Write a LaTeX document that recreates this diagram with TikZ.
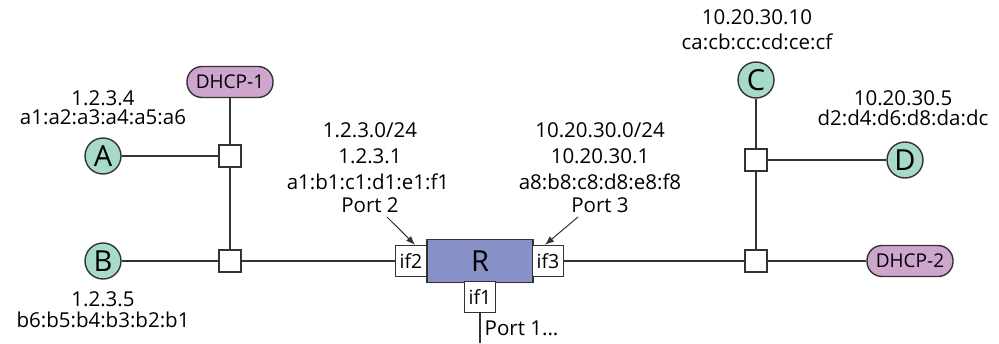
\documentclass[tikz,border=0pt]{standalone}
\usepackage{fontspec}
\setmainfont{Open Sans}
\usetikzlibrary{arrows.meta}
\definecolor{hostc}{RGB}{168,218,200}
\definecolor{dhcpc}{RGB}{205,165,205}
\definecolor{routc}{RGB}{136,146,200}
\colorlet{wire}{black!80}
\begin{document}
\begin{tikzpicture}[x=1pt, y=-1pt, line width=1.4pt,
    host/.style = {draw=wire, circle, fill=hostc, minimum size=36pt, inner sep=0pt, font=\fontsize{29}{31}\selectfont},
    sw/.style = {draw=wire, fill=white, minimum size=22pt, inner sep=0pt},
    dhcp/.style = {draw=wire, rounded corners=15pt, fill=dhcpc, minimum width=86pt, minimum height=31pt, inner sep=0pt, font=\fontsize{19}{21}\selectfont},
    rout/.style = {draw=wire, fill=routc, minimum width=106pt, minimum height=43pt, inner sep=0pt, font=\fontsize{29}{31}\selectfont},
    iface/.style = {draw=wire, fill=white, minimum width=31pt, minimum height=31pt, inner sep=0pt, font=\fontsize{19.5}{21}\selectfont},
    txt/.style = {inner sep=0pt, font=\fontsize{20.5}{22}\selectfont}]
    \useasboundingbox (0,0) rectangle (999,343);

    % hosts, switches and the router
    \node[host] (A) at (103,156) {A};
    \node[host] (B) at (103,261) {B};
    \node[host] (C) at (756,80) {C};
    \node[host] (D) at (905,160) {D};
    \node[dhcp] (dhcp1) at (230,82) {DHCP-1};
    \node[dhcp] (dhcp2) at (910,261) {DHCP-2};
    \node[sw] (sa) at (230,156) {};
    \node[sw] (sb) at (230,261) {};
    \node[sw] (sc) at (756,160) {};
    \node[sw] (sd) at (756,261) {};
    \node[rout] (R) at (480,261) {R};
    \node[iface] (if2) at (411,261) {if2};
    \node[iface] (if3) at (548,261) {if3};
    \node[iface] (if1) at (480,297) {if1};
    \coordinate (p1end) at (480,343);

    % links
    \draw[wire] (A) -- (sa);
    \draw[wire] (dhcp1) -- (sa);
    \draw[wire] (sa) -- (sb);
    \draw[wire] (B) -- (sb);
    \draw[wire] (sb) -- (if2);
    \draw[wire] (if3) -- (sd);
    \draw[wire] (sd) -- (dhcp2);
    \draw[wire] (sd) -- (sc);
    \draw[wire] (sc) -- (C);
    \draw[wire] (sc) -- (D);
    \draw[wire] (if1) -- (p1end);

    % addresses
    \node[txt] (ipa) at (103,98) {1.2.3.4};
    \node[txt] (maca) at (103,117.5) {a1:a2:a3:a4:a5:a6};
    \node[txt] (ipb) at (103,299) {1.2.3.5};
    \node[txt] (macb) at (103,320) {b6:b5:b4:b3:b2:b1};
    \node[txt] (ipc) at (757,17) {10.20.30.10};
    \node[txt] (macc) at (757,42) {ca:cb:cc:cd:ce:cf};
    \node[txt] (ipd) at (903,98) {10.20.30.5};
    \node[txt] (macd) at (903,118) {d2:d4:d6:d8:da:dc};

    \node[txt] (net2) at (370,130) {1.2.3.0/24};
    \node[txt] (ip2) at (370,156) {1.2.3.1};
    \node[txt] (mac2) at (368,182) {a1:b1:c1:d1:e1:f1};
    \node[txt] (port2) at (370,205) {Port 2};
    \node[txt] (net3) at (600,130) {10.20.30.0/24};
    \node[txt] (ip3) at (600,156) {10.20.30.1};
    \node[txt] (mac3) at (600,182) {a8:b8:c8:d8:e8:f8};
    \node[txt] (port3) at (600,205) {Port 3};
    \node[txt, anchor=west] (port1) at (484,328) {Port 1...};

    \coordinate (p2tail) at (387,217);
    \coordinate (p3tail) at (578,217);
    \draw[wire, line width=1pt, -{Latex[length=9pt, width=7pt]}] (p2tail) -- ([xshift=4pt]if2.north);
    \draw[wire, line width=1pt, -{Latex[length=9pt, width=7pt]}] (p3tail) -- ([xshift=-3pt]if3.north);

\end{tikzpicture}
\end{document}
